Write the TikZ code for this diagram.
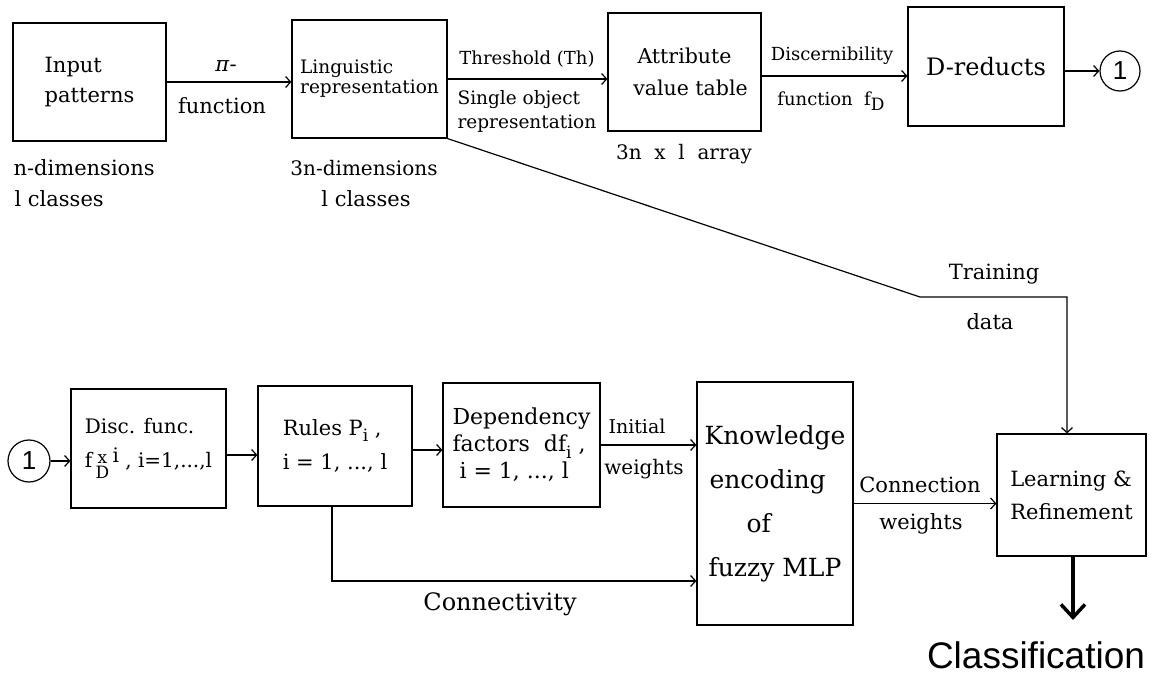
\documentclass[tikz,border=0pt]{standalone}
\usepackage{fontspec}
\setmainfont{DejaVu Serif}
\setsansfont{Liberation Sans}
\usetikzlibrary{arrows.meta}

\newcommand\fsz[2]{\fontsize{#1}{#2}\selectfont}
\newcommand\lowsub[1]{\raisebox{-.3em}{\fsz{17}{17}#1}}

\tikzset{
  arr/.style={draw, -{Straight Barb[length=5pt,width=11pt]}},
  bigarr/.style={draw, line width=3.5pt, -{Straight Barb[length=13pt,width=24pt]}},
}

\begin{document}
\begin{tikzpicture}[x=1pt,y=-1pt,line width=1.2pt]
        \useasboundingbox (0,0) rectangle (1152,674);

        \begin{scope}[every node/.style={draw,rectangle,inner sep=0pt,line width=1.2pt}]
          \node[minimum width=153pt,minimum height=118pt,align=left,font=\fsz{21}{30}] (inp) at (89.5,82) {Input\\patterns};
          \node[minimum width=155pt,minimum height=118pt,align=left,font=\fsz{18.5}{20}] (ling) at (369.5,79) {Linguistic\\representation};
          \node[minimum width=153pt,minimum height=118pt,align=center,font=\fsz{20.5}{32}] (attr) at (684.5,72) {Attribute\\\hspace{12pt}value table};
          \node[minimum width=156pt,minimum height=119pt,font=\fsz{24}{24}] (dred) at (986,66.5) {D-reducts};
          \node[minimum width=155pt,minimum height=119pt,align=left,font=\fsz{20}{34}] (disc) at (148.5,448.5)
            {Disc. func.\\f\,\raisebox{-.55em}{\fsz{17}{14}\shortstack{x\\D}}\,\raisebox{.25em}{i} , i=1,...,l};
          \node[minimum width=154pt,minimum height=120pt,align=left,font=\fsz{21}{34}] (rules) at (335,446)
            {Rules P\lowsub{i} ,\\i = 1, ..., l};
          \node[minimum width=157pt,minimum height=124pt,align=left,font=\fsz{22}{27}] (dep) at (521.5,445)
            {Dependency\\factors\ \ df\lowsub{i} ,\\\ i = 1, ..., l};
          \node[minimum width=156pt,minimum height=243pt,align=left,font=\fsz{25}{44}] (know) at (775,503.5)
            {Knowledge\\\hspace{5pt}encoding\\\hspace{42pt}of\\\hspace{4pt}fuzzy MLP};
          \node[minimum width=149pt,minimum height=122pt,align=left,font=\fsz{21}{33}] (learn) at (1071.5,495)
            {Learning \&\\Refinement};
        \end{scope}

        \begin{scope}[every node/.style={draw,circle,inner sep=0pt,line width=1.2pt,font=\sffamily\fsz{26}{26}}]
          \node[minimum size=40pt] (one) at (1120,71) {1};
          \node[minimum size=42pt] (onein) at (29,461) {1};
        \end{scope}

        \begin{scope}[every node/.style={inner sep=0pt,font=\fsz{21}{21}}]
          \node (pilab) at (226,66) {\textit{π}-};
          \node (funlab) at (222,106) {function};
          \node[anchor=west] (ndim) at (13,168) {n-dimensions};
          \node[anchor=west] (ncls) at (14,199) {l classes};
          \node[font=\fsz{20}{20}] (dimthree) at (364,168) {3n-dimensions};
          \node (clsthree) at (366,199) {l classes};
          \node[font=\fsz{18}{18}] (thr) at (527,59) {Threshold (Th)};
          \node[anchor=west,font=\fsz{18.5}{18.5}] (sgl) at (457,100) {Single object};
          \node[anchor=west,font=\fsz{18.5}{18.5}] (rep) at (457,124) {representation};
          \node[font=\fsz{20}{20}] (arrlab) at (684,154) {3n\ \ x\ \ l\ \ array};
          \node[font=\fsz{18}{18}] (discern) at (832,56) {Discernibility};
          \node[font=\fsz{18}{18}] (fdlab) at (831,101) {function\ \ f\lowsub{D}};
          \node[font=\fsz{19}{19}] (ini) at (637,426) {Initial};
          \node[font=\fsz{20}{20}] (wtsa) at (644,469) {weights};
          \node (conn) at (920,485) {Connection};
          \node (wtsb) at (921,524) {weights};
          \node (trn) at (994,274) {Training};
          \node (dat) at (990,322) {data};
          \node[font=\fsz{24}{24}] (cvty) at (500,604) {Connectivity};
          \node[font=\sffamily\fsz{37}{37}] (cls) at (1036,655) {Classification};
        \end{scope}

        \coordinate (cv) at (0,581);
        \coordinate (bend) at (920,297);
        \coordinate (clsend) at (1073,620);

        \begin{scope}[every edge/.style={arr}]
          \path (inp.east) edge (inp.east -| ling.west);
          \path (ling.east) edge (ling.east -| attr.west);
          \path ([yshift=-4pt]attr.east) edge ([yshift=-4pt]attr.east -| dred.west);
          \path (dred.east |- one) edge (one);
          \path (onein) edge (onein -| disc.west);
          \path ([yshift=-6.5pt]disc.east) edge ([yshift=-6.5pt]disc.east -| rules.west);
          \path ([yshift=-4pt]rules.east) edge ([yshift=-4pt]rules.east -| dep.west);
          \path (dep.east) edge (dep.east -| know.west);
          \path (know.east) edge (know.east -| learn.west);
        \end{scope}

        \draw[arr] ([xshift=-3pt]rules.south) |- (cv -| know.west);
        \draw[arr] (ling.south east) -- (bend) -| ([xshift=-4.5pt]learn.north);
        \draw[bigarr] ([xshift=1.5pt]learn.south) -- (clsend);

      \end{tikzpicture}
\end{document}
